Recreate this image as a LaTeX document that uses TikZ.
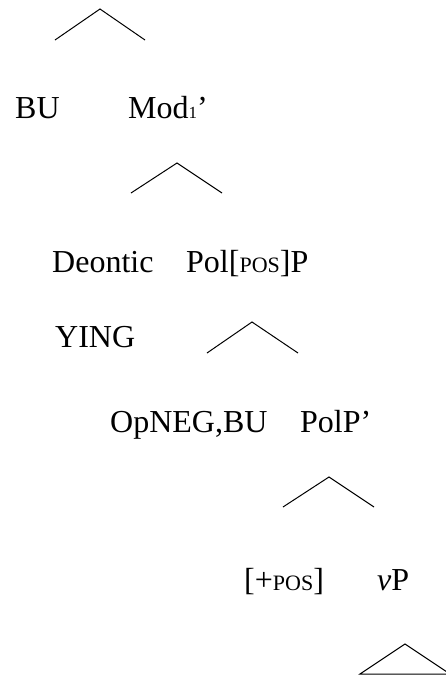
\documentclass[tikz,border=0pt]{standalone}
\usepackage{fontspec}
\setmainfont{Liberation Serif}
\usepackage{tikz}
\tikzset{
  lab/.style={anchor=base west, inner sep=0pt, font=\fontsize{32}{38}\selectfont},
  branch/.style={line width=1pt},
}
\newcommand{\sml}[1]{{\fontsize{22}{26}\selectfont #1}}
\newcommand{\sub}[1]{{\fontsize{17}{20}\selectfont #1}}

\begin{document}
\begin{tikzpicture}[x=1pt, y=-1pt]
  \clip (0,0) rectangle (446,678);
  % labels
  \node[lab] (bu)   at (15,118)  {BU};
  \node[lab] (modb) at (128,118) {Mod\sub{1}’};
  \node[lab] (deon) at (52,272)  {Deontic};
  \node[lab] (polp) at (186,272) {Pol[\sml{POS}]P};
  \node[lab] (ying) at (55,347)  {YING};
  \node[lab] (opng) at (110,432) {OpNEG,BU};
  \node[lab] (polb) at (300,432) {PolP’};
  \node[lab] (feat) at (244,590) {[+\sml{POS}]};
  \node[lab] (vp)   at (377,590) {\textit{v}P};
  % branching points
  \coordinate (t1) at (100,9);  \coordinate (l1) at (55,40);  \coordinate (r1) at (145,40);
  \coordinate (t2) at (177,163); \coordinate (l2) at (131,193); \coordinate (r2) at (222,193);
  \coordinate (t3) at (252,322); \coordinate (l3) at (207,353); \coordinate (r3) at (298,353);
  \coordinate (t4) at (329,477); \coordinate (l4) at (283,507); \coordinate (r4) at (374,507);
  \coordinate (t5) at (405,644); \coordinate (l5) at (360,674); \coordinate (r5) at (450,674);
  \foreach \i in {1,...,4}
    \draw[branch] (l\i) -- (t\i) -- (r\i);
  % roof over vP
  \draw[branch, line join=miter] (l5) -- (t5) -- (r5) -- cycle;
\end{tikzpicture}
\end{document}
